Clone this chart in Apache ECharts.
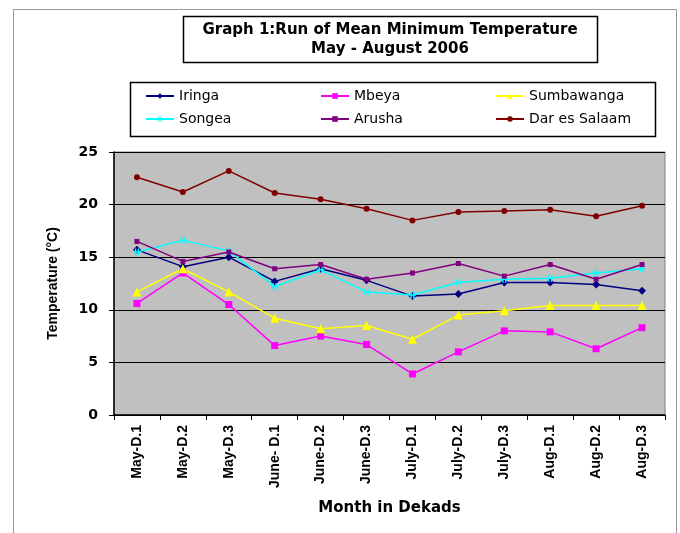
<!DOCTYPE html>
<html>
<head>
<meta charset="utf-8">
<script src="https://cdn.jsdelivr.net/npm/echarts@6/dist/echarts.min.js"></script>
<style>html,body{margin:0;padding:0;background:#fff}#c{width:680px;height:533px}</style>
</head>
<body>
<div id="c"></div>
<script>
const categories = ["May-D.1","May-D.2","May-D.3","June- D.1","June-D.2","June-D.3","July-D.1","July-D.2","July-D.3","Aug-D.1","Aug-D.2","Aug-D.3"];
const iringa      = [15.7, 14.1, 15.0, 12.7, 13.9, 12.8, 11.3, 11.5, 12.6, 12.6, 12.4, 11.8];
const mbeya       = [10.6, 13.5, 10.5, 6.6, 7.5, 6.7, 3.9, 6.0, 8.0, 7.9, 6.3, 8.3];
const sumbawanga  = [11.7, 13.9, 11.7, 9.2, 8.2, 8.5, 7.2, 9.5, 9.9, 10.4, 10.4, 10.4];
const songea      = [15.5, 16.6, 15.6, 12.2, 13.8, 11.7, 11.4, 12.6, 12.9, 13.0, 13.5, 13.9];
const arusha      = [16.5, 14.6, 15.5, 13.9, 14.3, 12.9, 13.5, 14.4, 13.2, 14.3, 12.9, 14.3];
const darEsSalaam = [22.6, 21.2, 23.2, 21.1, 20.5, 19.6, 18.5, 19.3, 19.4, 19.5, 18.9, 19.9];
const yTicks = [0, 5, 10, 15, 20, 25];

const ARIAL = '"Liberation Sans", Arial, sans-serif';
const WIDE = '"DejaVu Sans", Verdana, sans-serif';
const crossPath = 'path://M0,4 L10,4 L10,6 L0,6 Z M2,0 L4,0 L4,10 L2,10 Z M6,0 L8,0 L8,10 L6,10 Z';

function mk(name, data, color, symbol, size) {
  return {
    name, type: 'line', data,
    symbol, symbolSize: size,
    lineStyle: { color, width: 1.5 },
    itemStyle: { color },
    emphasis: { disabled: true },
    animation: false
  };
}

const series = [
  mk('Iringa', iringa, '#000080', 'diamond', 8),
  mk('Mbeya', mbeya, '#FF00FF', 'rect', 7),
  mk('Sumbawanga', sumbawanga, '#FFFF00', 'triangle', 9),
  mk('Songea', songea, '#00FFFF', crossPath, 7),
  mk('Arusha', arusha, '#800080', 'rect', 5),
  mk('Dar es Salaam', darEsSalaam, '#800000', 'circle', 6)
];

function legendCol(left, names) {
  return {
    left, top: 89, orient: 'vertical', itemGap: 9, padding: 0,
    itemWidth: 28, itemHeight: 7,
    textStyle: { fontFamily: WIDE, fontSize: 14, color: '#000' },
    data: names, selectedMode: false
  };
}

const chart = echarts.init(document.getElementById('c'), null, { renderer: 'canvas' });
chart.setOption({
  animation: false,
  backgroundColor: '#fff',
  graphic: [
    { type: 'rect', shape: { x: 13.5, y: 9.5, width: 663, height: 540 }, style: { fill: 'none', stroke: '#999', lineWidth: 1 }, z: -10 },
    { type: 'rect', shape: { x: 183.5, y: 16.5, width: 414, height: 46 }, style: { fill: '#fff', stroke: '#000', lineWidth: 1.5 } },
    { type: 'rect', shape: { x: 130.5, y: 82.5, width: 525, height: 54 }, style: { fill: '#fff', stroke: '#000', lineWidth: 1.5 } }
  ],
  title: {
    text: 'Graph 1:Run of Mean Minimum Temperature\nMay - August 2006',
    left: 390, top: 21, textAlign: 'center', padding: 0,
    textStyle: { fontFamily: WIDE, fontSize: 15, fontWeight: 'bold', color: '#000', lineHeight: 19 }
  },
  legend: [
    legendCol(145, ['Iringa', 'Songea']),
    legendCol(320, ['Mbeya', 'Arusha']),
    legendCol(495, ['Sumbawanga', 'Dar es Salaam'])
  ],
  grid: {
    left: 114, top: 152, right: 15, bottom: 118,
    show: true, backgroundColor: '#C0C0C0', borderColor: '#808080', borderWidth: 1
  },
  xAxis: {
    type: 'category', data: categories, boundaryGap: true,
    axisLine: { lineStyle: { color: '#000', width: 1.5 } },
    axisTick: { show: true, length: 5, lineStyle: { color: '#000' } },
    axisLabel: { rotate: 90, margin: 10, fontFamily: ARIAL, fontSize: 14, fontWeight: 'bold', color: '#000' },
    name: 'Month in Dekads', nameLocation: 'middle', nameGap: 86,
    nameTextStyle: { fontFamily: WIDE, fontSize: 15, fontWeight: 'bold', color: '#000' }
  },
  yAxis: {
    type: 'value', min: yTicks[0], max: yTicks[yTicks.length - 1], interval: 5,
    axisLine: { show: true, lineStyle: { color: '#000', width: 1.5 } },
    axisTick: { show: true, length: 5, lineStyle: { color: '#000' } },
    axisLabel: { margin: 16, fontFamily: WIDE, fontSize: 14, fontWeight: 'bold', color: '#000' },
    splitLine: { show: true, lineStyle: { color: '#000', width: 1 } },
    name: 'Temperature (°C)', nameLocation: 'middle', nameRotate: 90, nameGap: 54,
    nameTextStyle: { fontFamily: ARIAL, fontSize: 14, fontWeight: 'bold', color: '#000' }
  },
  series
});
</script>
</body>
</html>
